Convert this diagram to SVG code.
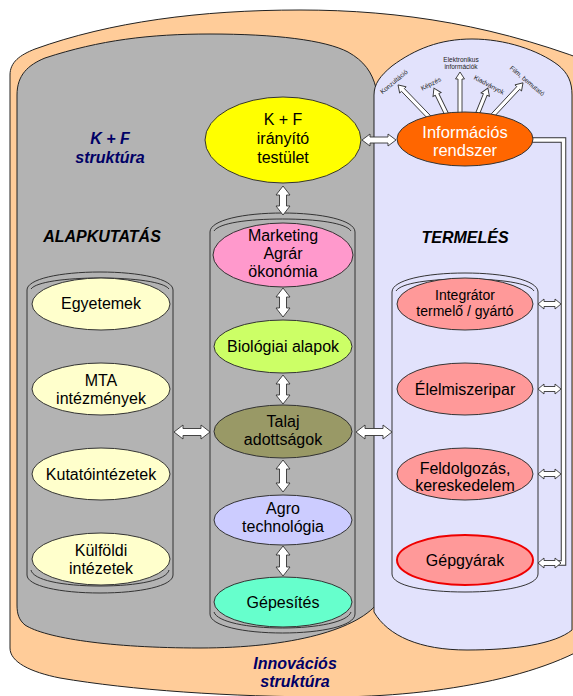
<svg xmlns="http://www.w3.org/2000/svg" width="573" height="696" viewBox="0 0 573 696">
<style>
text{font-family:"Liberation Sans",Arial,sans-serif;text-anchor:middle;fill:#000}
.t{font-size:16px}
.t14{font-size:14px}
.s{font-size:6.5px;fill:#222}
.h{font-size:16px;font-weight:bold;font-style:italic}
.navy{fill:#000066}
.bg{stroke:#222;stroke-width:1}
.col{fill:none;stroke:#333;stroke-width:1}
.n{stroke:#333;stroke-width:1}
.ar{fill:#fff;stroke:#333;stroke-width:0.9}
</style>
<g id="backgrounds">
<path id="innovacios" class="bg" fill="#ffcc99" d="M10,75 C10,62 20,55 35,49 C110,22 200,10 300,10 C400,10 500,25 610,70 L610,630 C560,675 440,697 330,697 C230,697 130,690 60,678 C30,672 10,662 10,648 Z"/>
<path id="kf-struktura" class="bg" fill="#b3b3b3" d="M17,95 C17,75 28,65 45,58 C100,40 150,34 210,34 C275,34 325,40 348,52 C364,61 372,72 376,88 L380,600 C360,630 290,648 200,648 C110,648 45,638 25,625 C19,620 17,614 17,605 Z"/>
<path id="termeles-bg" class="bg" fill="#e2e2fc" d="M374,612 V95 C374,84 380,76 392,66 C415,49 440,39 472,39 C505,39 538,50 558,65 C568,73 572,82 572,95 V630 C555,644 515,650 467,650 C420,650 388,636 374,612 Z"/>
</g>
<g id="columns">
<g id="col-left">
<path class="col" d="M27,290 C27,279 60,272 100,272 C140,272 173,279 173,290 V575 C173,586 140,593 100,593 C60,593 27,586 27,575 Z"/>
<path class="col" d="M31,289 C36,282 65,278 100,278 C135,278 164,282 169,289"/>
<path class="col" d="M31,570 C33,580 62,586 100,586 C138,586 167,580 169,570"/>
</g>
<g id="col-mid">
<path class="col" d="M210,232 C210,220 244,213 282.5,213 C321,213 355,220 355,232 V614 C355,626 321,633 282.5,633 C244,633 210,626 210,614 Z"/>
<path class="col" d="M214,231 C219,223 248,219 282.5,219 C317,219 346,223 351,231"/>
<path class="col" d="M214,612 C217,622 248,628 282.5,628 C317,628 348,622 351,612"/>
</g>
<g id="col-right">
<path class="col" d="M392,292 C392,280 426,273 465,273 C504,273 538,280 538,292 V574 C538,586 504,592 465,592 C426,592 392,586 392,574 Z"/>
<path class="col" d="M396,291 C401,283 430,279 465,279 C500,279 529,283 534,291"/>
</g>
</g>
<g id="labels">
<text class="h navy" x="110" y="144">K + F</text>
<text class="h navy" x="110" y="163">struktúra</text>
<text class="h" x="102" y="242">ALAPKUTATÁS</text>
<text class="h" x="465" y="243">TERMELÉS</text>
<text class="h navy" x="295" y="669">Innovációs</text>
<text class="h navy" x="295" y="687">struktúra</text>
</g>
<g id="connectors">
<path d="M525,140 H563.5 V563 H556" fill="none" stroke="#333" stroke-width="5.5"/>
<path d="M525,140 H563.5 V563 H556" fill="none" stroke="#fff" stroke-width="3.5"/>
<path class="ar" d="M283,186 L290,195 H286.5 V206 H290 L283,215 L276,206 H279.5 V195 H276 Z"/>
<path class="ar" d="M283,288 L290,297 H286.5 V308 H290 L283,317 L276,308 H279.5 V297 H276 Z"/>
<path class="ar" d="M283,375 L290,384 H286.5 V395 H290 L283,404 L276,395 H279.5 V384 H276 Z"/>
<path class="ar" d="M283,460 L290,469 H286.5 V483 H290 L283,492 L276,483 H279.5 V469 H276 Z"/>
<path class="ar" d="M283,546 L290,555 H286.5 V567 H290 L283,576 L276,567 H279.5 V555 H276 Z"/>
<path class="ar" d="M174,432 L183,425 V428.5 H201 V425 L210,432 L201,439 V435.5 H183 V439 Z"/>
<path class="ar" d="M356,432 L365,425 V428.5 H383 V425 L392,432 L383,439 V435.5 H365 V439 Z"/>
<path class="ar" d="M362,140 L370,134 V137 H388 V134 L396,140 L388,146 V143 H370 V146 Z"/>
<path class="ar" d="M538,304 L544,299 V301.5 H555 V299 L561,304 L555,309 V306.5 H544 V309 Z"/>
<path class="ar" d="M538,389 L544,384 V386.5 H555 V384 L561,389 L555,394 V391.5 H544 V394 Z"/>
<path class="ar" d="M538,474 L544,469 V471.5 H555 V469 L561,474 L555,479 V476.5 H544 V479 Z"/>
<path class="ar" d="M538,563 L544,558 V560.5 H555 V558 L561,563 L555,568 V565.5 H544 V568 Z"/>
<path class="ar" transform="translate(430,118) rotate(-134)" d="M0,-2 H39 V-4.5 L46,0 L39,4.5 V2 H0 Z"/>
<path class="ar" transform="translate(448,117) rotate(-116)" d="M0,-2 H25 V-4.5 L32,0 L25,4.5 V2 H0 Z"/>
<path class="ar" transform="translate(460,114) rotate(-90)" d="M0,-2 H35 V-4.5 L42,0 L35,4.5 V2 H0 Z"/>
<path class="ar" transform="translate(477,115) rotate(-68)" d="M0,-2 H22 V-4.5 L29,0 L22,4.5 V2 H0 Z"/>
<path class="ar" transform="translate(493,115) rotate(-47)" d="M0,-2 H37 V-4.5 L44,0 L37,4.5 V2 H0 Z"/>
</g>
<g id="info-labels">
<text class="s" transform="translate(394,82) rotate(-40)" y="2">Konzultáció</text>
<text class="s" transform="translate(431,84) rotate(-27)" y="2">Képzés</text>
<text class="s" x="461" y="62">Elektronikus</text>
<text class="s" x="461" y="69">információk</text>
<text class="s" transform="translate(489,85) rotate(28)" y="2">Kiadványok</text>
<text class="s" transform="translate(527,81) rotate(40)" y="2">Film, bemutató</text>
</g>
<g id="kf-iranyito">
<ellipse class="n" cx="283" cy="140" rx="78" ry="43" fill="#ffff00"/>
<text class="t" x="283" y="125">K + F</text>
<text class="t" x="283" y="144">irányító</text>
<text class="t" x="283" y="163">testület</text>
</g>
<g id="informacios">
<ellipse class="n" cx="465" cy="139" rx="68" ry="27" fill="#ff6600"/>
<text class="t" x="465" y="138" style="fill:#fff;font-size:16.5px">Információs</text>
<text class="t" x="465" y="156" style="fill:#fff;font-size:16.5px">rendszer</text>
</g>
<g id="egyetemek">
<ellipse class="n" cx="101" cy="304" rx="69" ry="26" fill="#ffffcc"/>
<text class="t" x="101" y="309">Egyetemek</text>
</g>
<g id="mta">
<ellipse class="n" cx="101" cy="389" rx="69" ry="26" fill="#ffffcc"/>
<text class="t" x="101" y="386">MTA</text>
<text class="t" x="101" y="404">intézmények</text>
</g>
<g id="kutatointezetek">
<ellipse class="n" cx="101" cy="474" rx="69" ry="26" fill="#ffffcc"/>
<text class="t" x="101" y="480">Kutatóintézetek</text>
</g>
<g id="kulfoldi">
<ellipse class="n" cx="101" cy="559" rx="69" ry="26" fill="#ffffcc"/>
<text class="t" x="101" y="556">Külföldi</text>
<text class="t" x="101" y="574">intézetek</text>
</g>
<g id="marketing">
<ellipse class="n" cx="283" cy="255" rx="70" ry="32" fill="#ff99cc"/>
<text class="t" x="283" y="241">Marketing</text>
<text class="t" x="283" y="259">Agrár</text>
<text class="t" x="283" y="277">ökonómia</text>
</g>
<g id="biologiai">
<ellipse class="n" cx="283" cy="346.5" rx="69" ry="26.5" fill="#ccff66"/>
<text class="t" x="283" y="352">Biológiai alapok</text>
</g>
<g id="talaj">
<ellipse class="n" cx="283" cy="431.5" rx="69" ry="26.5" fill="#999966"/>
<text class="t" x="283" y="427">Talaj</text>
<text class="t" x="283" y="445">adottságok</text>
</g>
<g id="agro">
<ellipse class="n" cx="283" cy="520" rx="69" ry="25" fill="#ccccff"/>
<text class="t" x="283" y="514">Agro</text>
<text class="t" x="283" y="532">technológia</text>
</g>
<g id="gepesites">
<ellipse class="n" cx="283" cy="602" rx="69" ry="25" fill="#66ffcc"/>
<text class="t" x="283" y="608">Gépesítés</text>
</g>
<g id="integrator">
<ellipse class="n" cx="465" cy="304" rx="68" ry="26" fill="#ff9999"/>
<text class="t14" x="465" y="300">Integrátor</text>
<text class="t14" x="465" y="316">termelő / gyártó</text>
</g>
<g id="elelmiszeripar">
<ellipse class="n" cx="465" cy="389" rx="68" ry="26" fill="#ff9999"/>
<text class="t" x="465" y="395">Élelmiszeripar</text>
</g>
<g id="feldolgozas">
<ellipse class="n" cx="465" cy="474" rx="68" ry="26" fill="#ff9999"/>
<text class="t" x="465" y="474">Feldolgozás,</text>
<text class="t" x="465" y="491">kereskedelem</text>
</g>
<g id="gepgyarak">
<ellipse cx="465" cy="560" rx="68" ry="25" fill="#ff9999" stroke="#ee0000" stroke-width="2"/>
<text class="t" x="465" y="566">Gépgyárak</text>
</g>
</svg>
